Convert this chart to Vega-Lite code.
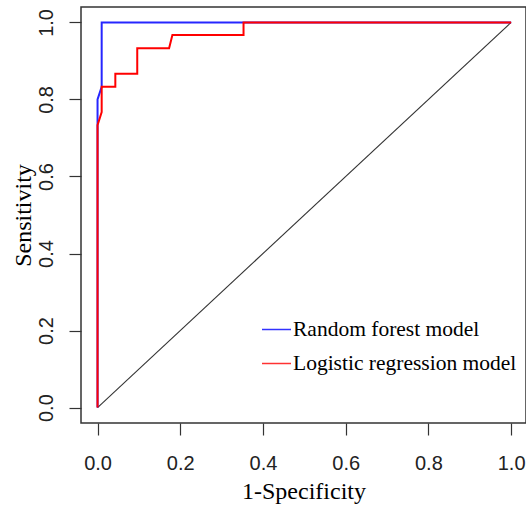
{
  "$schema": "https://vega.github.io/schema/vega-lite/v6.json",
  "width": 445,
  "height": 416,
  "autosize": {"type": "none"},
  "padding": {"left": 81, "top": 7, "right": 0, "bottom": 84},
  "background": "white",
  "config": {
    "view": {"stroke": "#333", "strokeWidth": 1.5},
    "axis": {
      "grid": false,
      "domain": false,
      "tickSize": 12,
      "tickColor": "#333",
      "tickWidth": 1.2,
      "labelFont": "Liberation Sans",
      "labelFontSize": 20,
      "labelColor": "#222",
      "titleFont": "Liberation Serif",
      "titleFontSize": 24,
      "titleFontWeight": "normal",
      "titleColor": "#000"
    }
  },
  "datasets": {
    "roc": [
      {"series": "Diagonal", "i": 0, "fpr": 0, "tpr": 0},
      {"series": "Diagonal", "i": 1, "fpr": 1, "tpr": 1},
      {"series": "Random forest model", "i": 0, "fpr": 0, "tpr": 0},
      {"series": "Random forest model", "i": 1, "fpr": 0, "tpr": 0.8},
      {"series": "Random forest model", "i": 2, "fpr": 0.01, "tpr": 0.833},
      {"series": "Random forest model", "i": 3, "fpr": 0.01, "tpr": 1},
      {"series": "Random forest model", "i": 4, "fpr": 1, "tpr": 1},
      {"series": "Logistic regression model", "i": 0, "fpr": 0, "tpr": 0},
      {"series": "Logistic regression model", "i": 1, "fpr": 0, "tpr": 0.733},
      {"series": "Logistic regression model", "i": 2, "fpr": 0.01, "tpr": 0.767},
      {"series": "Logistic regression model", "i": 3, "fpr": 0.01, "tpr": 0.833},
      {"series": "Logistic regression model", "i": 4, "fpr": 0.043, "tpr": 0.833},
      {"series": "Logistic regression model", "i": 5, "fpr": 0.043, "tpr": 0.867},
      {"series": "Logistic regression model", "i": 6, "fpr": 0.096, "tpr": 0.867},
      {"series": "Logistic regression model", "i": 7, "fpr": 0.096, "tpr": 0.933},
      {"series": "Logistic regression model", "i": 8, "fpr": 0.173, "tpr": 0.933},
      {"series": "Logistic regression model", "i": 9, "fpr": 0.181, "tpr": 0.967},
      {"series": "Logistic regression model", "i": 10, "fpr": 0.353, "tpr": 0.967},
      {"series": "Logistic regression model", "i": 11, "fpr": 0.353, "tpr": 1},
      {"series": "Logistic regression model", "i": 12, "fpr": 1, "tpr": 1}
    ]
  },
  "data": {"name": "roc"},
  "encoding": {
    "x": {
      "field": "fpr",
      "type": "quantitative",
      "scale": {"domain": [-0.04, 1.036], "nice": false, "zero": false},
      "axis": {
        "values": [0, 0.2, 0.4, 0.6, 0.8, 1],
        "format": ".1f",
        "title": "1-Specificity",
        "labelPadding": 18,
        "titleBaseline": "alphabetic",
        "titleY": 75
      }
    },
    "y": {
      "field": "tpr",
      "type": "quantitative",
      "scale": {"domain": [-0.04, 1.04], "nice": false, "zero": false},
      "axis": {
        "values": [0, 0.2, 0.4, 0.6, 0.8, 1],
        "format": ".1f",
        "title": "Sensitivity",
        "labelAngle": 270,
        "labelAlign": "center",
        "labelBaseline": "bottom",
        "labelPadding": 13,
        "titleAngle": 270,
        "titleBaseline": "alphabetic",
        "titleAlign": "center",
        "titleX": -51,
        "titleY": 208
      }
    },
    "order": {"field": "i", "type": "quantitative"}
  },
  "layer": [
    {
      "transform": [{"filter": "datum.series === 'Diagonal'"}],
      "mark": {"type": "line", "color": "#333", "strokeWidth": 1.1}
    },
    {
      "transform": [{"filter": "datum.series === 'Random forest model'"}],
      "mark": {"type": "line", "strokeWidth": 2, "strokeOpacity": 0.85},
      "encoding": {
        "color": {
          "field": "series",
          "type": "nominal",
          "scale": {"domain": ["Random forest model", "Logistic regression model"], "range": ["#0000FF", "#FF0000"]},
          "legend": {
            "orient": "none",
            "legendX": 180,
            "legendY": 307,
            "title": null,
            "padding": 0,
            "symbolType": "stroke",
            "symbolSize": 841,
            "symbolStrokeWidth": 1.5,
            "symbolOpacity": 0.8,
            "labelFont": "Liberation Serif",
            "labelFontSize": 21.5,
            "labelColor": "#000",
            "labelLimit": 0,
            "labelOffset": 1,
            "rowPadding": 8
          }
        }
      }
    },
    {
      "transform": [{"filter": "datum.series === 'Logistic regression model'"}],
      "mark": {"type": "line", "strokeWidth": 2, "strokeOpacity": 1},
      "encoding": {
        "color": {
          "field": "series",
          "type": "nominal",
          "scale": {"domain": ["Random forest model", "Logistic regression model"], "range": ["#0000FF", "#FF0000"]},
          "legend": {
            "orient": "none",
            "legendX": 180,
            "legendY": 307,
            "title": null,
            "padding": 0,
            "symbolType": "stroke",
            "symbolSize": 841,
            "symbolStrokeWidth": 1.5,
            "symbolOpacity": 0.8,
            "labelFont": "Liberation Serif",
            "labelFontSize": 21.5,
            "labelColor": "#000",
            "labelLimit": 0,
            "labelOffset": 1,
            "rowPadding": 8
          }
        }
      }
    }
  ]
}
